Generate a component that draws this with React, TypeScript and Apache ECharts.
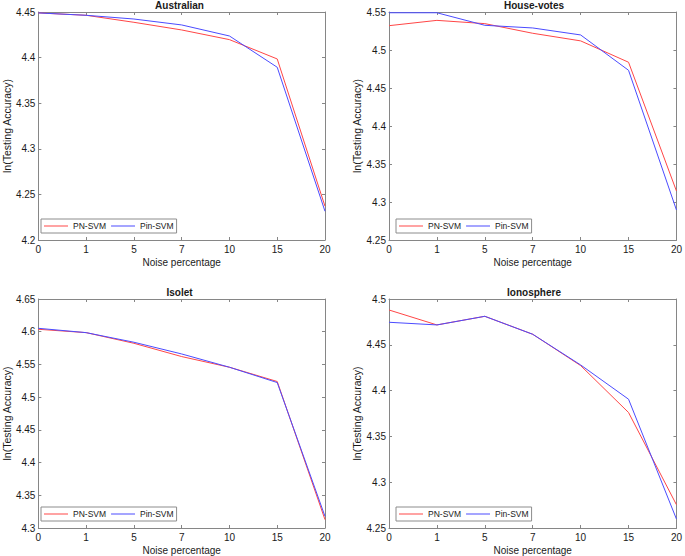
import React, { useEffect, useRef } from "react";
import * as echarts from "echarts";

const noiseLevels = ["0", "1", "5", "7", "10", "15", "20"];
const seriesNames = ["PN-SVM", "Pin-SVM"];

const australianPN = [4.449, 4.4464, 4.4387, 4.4303, 4.4197, 4.3985, 4.237];
const australianPin = [4.449, 4.4464, 4.4423, 4.4358, 4.4237, 4.3894, 4.2315];

const houseVotesPN = [4.532, 4.539, 4.5347, 4.522, 4.512, 4.4839, 4.3145];
const houseVotesPin = [4.549, 4.549, 4.5325, 4.529, 4.5198, 4.4733, 4.2895];

const isoletPN = [4.6037, 4.5986, 4.5823, 4.562, 4.5457, 4.5239, 4.3128];
const isoletPin = [4.6052, 4.5986, 4.5839, 4.566, 4.5457, 4.5223, 4.3178];

const ionospherePN = [4.488, 4.4717, 4.4811, 4.4615, 4.4273, 4.3761, 4.2754];
const ionospherePin = [4.4746, 4.4717, 4.4811, 4.4615, 4.428, 4.3906, 4.2598];

const panelTitles = ["Australian", "House-votes", "Isolet", "Ionosphere"];
const yRanges = [
  [4.2, 4.45],
  [4.25, 4.55],
  [4.3, 4.65],
  [4.25, 4.5],
];
const yStep = 0.05;

const FONT = "'Liberation Sans', Arial, Helvetica, sans-serif";
const AXIS_COLOR = "#868686";
const TEXT_COLOR = "#1a1a1a";
const RED = "#ff4646";
const BLUE = "#4b4bff";

export default function App() {
  const ref = useRef<HTMLDivElement>(null);

  useEffect(() => {
    if (!ref.current) return;
    const chart = echarts.init(ref.current, undefined, { renderer: "svg" });

    const grids = [
      { left: 34, top: 12, width: 291, height: 228 },
      { left: 389, top: 12, width: 290, height: 228 },
      { left: 34, top: 299, width: 291, height: 229 },
      { left: 389, top: 299, width: 290, height: 229 },
    ];
    const legendPos = [
      { left: 41, top: 219 },
      { left: 396, top: 219 },
      { left: 41, top: 507 },
      { left: 396, top: 507 },
    ];
    const data = [
      [australianPN, australianPin],
      [houseVotesPN, houseVotesPin],
      [isoletPN, isoletPin],
      [ionospherePN, ionospherePin],
    ];

    const xAxis: any[] = [];
    const yAxis: any[] = [];
    const series: any[] = [];
    const graphic: any[] = [];
    const legend: any[] = [];

    grids.forEach((g, i) => {
      xAxis.push({
        type: "category",
        gridIndex: i,
        data: noiseLevels,
        boundaryGap: false,
        position: "bottom",
        name: "Noise percentage",
        nameLocation: "middle",
        nameGap: 17,
        nameTextStyle: { fontFamily: FONT, fontSize: 10, color: TEXT_COLOR },
        axisLine: { show: true, lineStyle: { color: AXIS_COLOR, width: 1 } },
        axisTick: { show: true, inside: true, length: 3, alignWithLabel: true, lineStyle: { color: AXIS_COLOR } },
        axisLabel: { fontFamily: FONT, fontSize: 10, color: TEXT_COLOR, margin: 4 },
        splitLine: { show: false },
      });
      xAxis.push({
        type: "category",
        gridIndex: i,
        data: noiseLevels,
        boundaryGap: false,
        position: "top",
        axisLine: { show: true, lineStyle: { color: AXIS_COLOR, width: 1 } },
        axisTick: { show: true, inside: true, length: 3, lineStyle: { color: AXIS_COLOR } },
        axisLabel: { show: false },
        splitLine: { show: false },
      });
      const [mn, mx] = yRanges[i];
      yAxis.push({
        type: "value",
        gridIndex: i,
        min: mn,
        max: mx,
        interval: yStep,
        position: "left",
        name: "ln(Testing Accuracy)",
        nameLocation: "middle",
        nameGap: 25,
        nameTextStyle: { fontFamily: FONT, fontSize: 10.5, color: TEXT_COLOR },
        axisLine: { show: true, lineStyle: { color: AXIS_COLOR, width: 1 } },
        axisTick: { show: true, inside: true, length: 3, lineStyle: { color: AXIS_COLOR } },
        axisLabel: {
          fontFamily: FONT,
          fontSize: 10,
          color: TEXT_COLOR,
          margin: 3,
          formatter: (v: number) => String(parseFloat(v.toFixed(4))),
        },
        splitLine: { show: false },
      });
      yAxis.push({
        type: "value",
        gridIndex: i,
        min: mn,
        max: mx,
        interval: yStep,
        position: "right",
        axisLine: { show: true, lineStyle: { color: AXIS_COLOR, width: 1 } },
        axisTick: { show: true, inside: true, length: 3, lineStyle: { color: AXIS_COLOR } },
        axisLabel: { show: false },
        splitLine: { show: false },
      });

      const colors = [RED, BLUE];
      data[i].forEach((vals, k) => {
        series.push({
          type: "line",
          name: seriesNames[k],
          xAxisIndex: i * 2,
          yAxisIndex: i * 2,
          data: vals,
          symbol: "none",
          showSymbol: false,
          lineStyle: { color: colors[k], width: 1 },
          itemStyle: { color: colors[k] },
          z: 2 + k,
        });
      });

      graphic.push({
        type: "text",
        x: g.left + g.width / 2,
        y: g.top - 12,
        style: {
          text: panelTitles[i],
          fontFamily: FONT,
          fontSize: 10,
          fontWeight: "bold",
          fill: TEXT_COLOR,
          textAlign: "center",
          textVerticalAlign: "top",
        },
      });

      legend.push({
        show: true,
        left: legendPos[i].left,
        top: legendPos[i].top,
        orient: "horizontal",
        data: seriesNames,
        icon: "rect",
        itemWidth: 24,
        itemHeight: 1,
        itemGap: 5,
        padding: [2, 3, 2, 3],
        borderColor: "#8c8c8c",
        borderWidth: 1,
        backgroundColor: "#ffffff",
        selectedMode: false,
        textStyle: { fontFamily: FONT, fontSize: 8.5, color: TEXT_COLOR, lineHeight: 10 },
        z: 10,
      });
    });

    chart.setOption({
      animation: false,
      backgroundColor: "#ffffff",
      grid: grids.map((g) => ({ ...g, containLabel: false })),
      xAxis,
      yAxis,
      series,
      legend,
      graphic,
    });

    return () => chart.dispose();
  }, []);

  return (
    <div
      ref={ref}
      style={{ position: "absolute", left: 0, top: 0, width: 685, height: 556 }}
    />
  );
}
